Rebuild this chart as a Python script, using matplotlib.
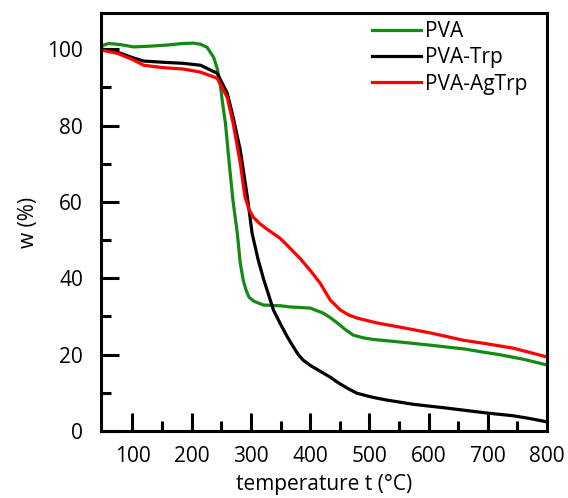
import matplotlib
matplotlib.use("Agg")
import matplotlib.pyplot as plt
from matplotlib.ticker import MultipleLocator, FixedLocator

plt.rcParams['font.family'] = ['Open Sans', 'DejaVu Sans']

# TGA curves
pva_t = [50, 60, 80, 102, 130, 159, 185, 203, 215, 226, 237, 243, 248, 252, 257, 261, 265, 270,
         277, 282, 287, 292, 297, 305, 321, 350, 366, 400, 422, 434, 446, 460, 473, 490, 506,
         552, 602, 631, 660, 687, 720, 760, 800]
pva_w = [101, 101.5, 101.2, 100.6, 100.8, 101.1, 101.5, 101.6, 101.3, 100.5, 97.9, 95, 91, 86,
         80.6, 74, 67.5, 60, 51.8, 44, 39.5, 36.8, 35, 34, 33, 32.8, 32.5, 32.2, 30.9, 29.7,
         28.3, 26.5, 25.1, 24.4, 24, 23.3, 22.5, 22, 21.5, 20.8, 20, 18.8, 17.3]

trp_t = [50, 75, 100, 119, 150, 186, 215, 243, 260, 270, 282, 294, 302, 312, 321, 338,
         350, 361, 371, 380, 388, 400, 410, 422, 434, 446, 463, 479, 501, 513, 530, 574, 631,
         699, 743, 770, 800]
trp_w = [100, 99.2, 97.8, 96.9, 96.6, 96.3, 95.8, 93.7, 88.5, 82.2, 73.6, 61.3, 51.8, 45, 40,
         31.7, 28, 24.8, 22.2, 20, 18.6, 17.2, 16.3, 15.2, 14.1, 12.8, 11.2, 9.9, 9, 8.6, 8.1,
         7, 6, 4.7, 4, 3.3, 2.4]

ag_t = [50, 75, 100, 119, 150, 186, 215, 243, 260, 270, 282, 290, 297, 304, 315, 328, 350,
        366, 383, 400, 417, 434, 451, 465, 479, 513, 552, 603, 658, 700, 743, 800]
ag_w = [99.7, 98.9, 97.3, 95.8, 95.2, 94.8, 94, 92.4, 87.4, 80.6, 70.2, 61.3, 58, 56, 54.3,
        52.8, 50.4, 47.9, 45.2, 42.1, 38.7, 34.3, 31.7, 30.4, 29.6, 28.3, 27.2, 25.7, 23.8,
        22.8, 21.7, 19.4]

labels = ['PVA', 'PVA-Trp', 'PVA-AgTrp']
colors = ['#148a14', 'black', '#ff0000']

fig = plt.figure(figsize=(5.68, 4.98), dpi=100)
ax = fig.add_axes([0.178, 0.1345, 0.785, 0.8395])

for t, w, lab, c in zip([pva_t, trp_t, ag_t], [pva_w, trp_w, ag_w], labels, colors):
    ax.plot(t, w, color=c, lw=2.3, label=lab, solid_joinstyle='round')

ax.set_xlim(47, 800)
ax.set_ylim(0, 109.5)
ax.xaxis.set_major_locator(FixedLocator(range(100, 801, 100)))
ax.xaxis.set_minor_locator(FixedLocator(range(150, 800, 100)))
ax.yaxis.set_major_locator(MultipleLocator(20))
ax.yaxis.set_minor_locator(MultipleLocator(10))

for s in ax.spines.values():
    s.set_linewidth(2.2)
ax.tick_params(which='both', direction='in', top=False, right=False, width=2.2, labelsize=15)
ax.tick_params(which='major', length=13)
ax.tick_params(which='minor', length=7)
ax.tick_params(axis='y', pad=13)
ax.tick_params(axis='x', pad=11)

ax.set_xlabel('temperature t (°C)', fontsize=15, labelpad=5)
ax.set_ylabel('w (%)', fontsize=15, labelpad=6)

leg = ax.legend(loc='upper right', frameon=False, fontsize=15, handlelength=2.35,
                handletextpad=0.2, labelspacing=0.25, borderaxespad=0.0,
                bbox_to_anchor=(0.975, 1.0))

fig.savefig('out.png', dpi=100)
